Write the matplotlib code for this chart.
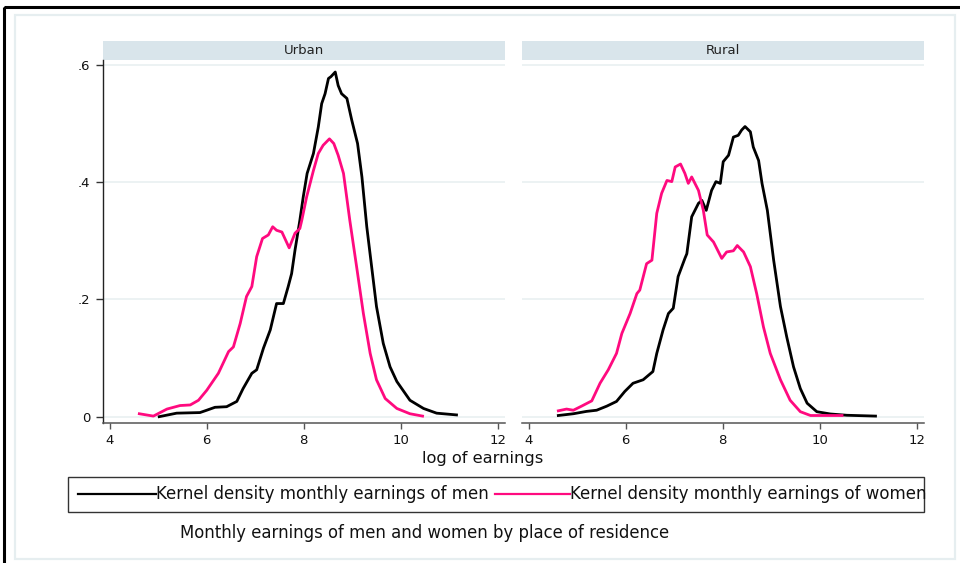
import matplotlib
matplotlib.use('Agg')
import matplotlib.pyplot as plt
from matplotlib.patches import Rectangle

plt.rcParams['font.family'] = ['DejaVu Sans']

# ---------------Data---------------
urban_men_x = [5.02, 5.38, 5.86, 6.00, 6.17, 6.41, 6.62, 6.75, 6.93, 7.03, 7.17, 7.31,
               7.44, 7.58, 7.68, 7.75, 7.82, 7.92, 7.99, 8.07, 8.20, 8.30, 8.37, 8.44,
               8.51, 8.56, 8.65, 8.71, 8.78, 8.89, 8.99, 9.11, 9.20, 9.30, 9.40, 9.50,
               9.64, 9.78, 9.92, 10.19, 10.47, 10.74, 11.15]
urban_men_y = [0.000, 0.006, 0.007, 0.011, 0.016, 0.017, 0.026, 0.048, 0.074, 0.080, 0.117, 0.148,
               0.193, 0.193, 0.222, 0.244, 0.284, 0.335, 0.375, 0.415, 0.449, 0.494, 0.534, 0.551,
               0.577, 0.580, 0.588, 0.565, 0.551, 0.543, 0.506, 0.466, 0.409, 0.324, 0.256, 0.188,
               0.125, 0.085, 0.060, 0.028, 0.014, 0.006, 0.003]

urban_women_x = [4.61, 4.90, 5.18, 5.45, 5.66, 5.83, 6.00, 6.24, 6.45, 6.55, 6.69, 6.82,
                 6.93, 7.03, 7.15, 7.27, 7.36, 7.44, 7.55, 7.70, 7.82, 7.92, 7.96, 8.06,
                 8.20, 8.30, 8.40, 8.53, 8.62, 8.71, 8.82, 8.95, 9.09, 9.23, 9.37, 9.50,
                 9.68, 9.92, 10.19, 10.45]
urban_women_y = [0.005, 0.001, 0.013, 0.019, 0.020, 0.028, 0.045, 0.074, 0.111, 0.119, 0.159, 0.205,
                 0.222, 0.273, 0.304, 0.310, 0.324, 0.318, 0.315, 0.288, 0.313, 0.321, 0.335, 0.375,
                 0.420, 0.449, 0.463, 0.474, 0.466, 0.446, 0.415, 0.335, 0.256, 0.176, 0.108, 0.063,
                 0.031, 0.014, 0.005, 0.001]

rural_men_x = [4.61, 4.92, 5.19, 5.40, 5.61, 5.81, 5.98, 6.15, 6.36, 6.56, 6.64, 6.77,
               6.88, 6.98, 7.08, 7.22, 7.26, 7.36, 7.50, 7.57, 7.66, 7.77, 7.86, 7.95,
               8.01, 8.12, 8.22, 8.32, 8.39, 8.46, 8.57, 8.63, 8.74, 8.81, 8.92, 9.05,
               9.19, 9.32, 9.46, 9.60, 9.74, 9.94, 10.22, 10.56, 11.15]
rural_men_y = [0.002, 0.005, 0.009, 0.011, 0.018, 0.026, 0.043, 0.057, 0.063, 0.077, 0.108, 0.148,
               0.176, 0.185, 0.239, 0.270, 0.278, 0.341, 0.364, 0.369, 0.352, 0.386, 0.401, 0.398,
               0.435, 0.446, 0.477, 0.480, 0.489, 0.495, 0.486, 0.460, 0.437, 0.398, 0.352, 0.267,
               0.188, 0.136, 0.085, 0.048, 0.023, 0.0085, 0.0046, 0.0024, 0.001]

rural_women_x = [4.61, 4.78, 4.92, 5.09, 5.30, 5.47, 5.64, 5.81, 5.92, 6.09, 6.23, 6.29,
                 6.43, 6.54, 6.64, 6.74, 6.85, 6.95, 7.02, 7.13, 7.22, 7.29, 7.36, 7.50,
                 7.60, 7.68, 7.81, 7.98, 8.08, 8.22, 8.30, 8.43, 8.57, 8.70, 8.84, 8.98,
                 9.19, 9.39, 9.60, 9.81, 10.46]
rural_women_y = [0.010, 0.013, 0.011, 0.018, 0.027, 0.057, 0.080, 0.108, 0.142, 0.176, 0.210, 0.216,
                 0.261, 0.267, 0.347, 0.381, 0.403, 0.401, 0.426, 0.431, 0.415, 0.398, 0.409, 0.386,
                 0.352, 0.310, 0.298, 0.270, 0.281, 0.283, 0.292, 0.281, 0.256, 0.210, 0.153, 0.108,
                 0.063, 0.028, 0.0085, 0.002, 0.002]

panels = ['Urban', 'Rural']
x_ticks = [4, 6, 8, 10, 12]
y_ticks = [0, 0.2, 0.4, 0.6]
y_tick_labels = ['0', '.2', '.4', '.6']
legend_labels = ['Kernel density monthly earnings of men',
                 'Kernel density monthly earnings of women']
x_label = 'log of earnings'
note = 'Monthly earnings of men and women by place of residence'
# ------------------------------------------------------------

MEN_C = '#000000'
WOMEN_C = '#ff0a7f'
STRIP_C = '#d9e5eb'
GRID_C = '#e9f0f1'

W, H = 960, 563
fig = plt.figure(figsize=(W / 100, H / 100), dpi=100)


def px_axes(x0, y0, x1, y1, **kw):
    return fig.add_axes([x0 / W, 1 - y1 / H, (x1 - x0) / W, (y1 - y0) / H], **kw)


# background layer in pixel coordinates
bg = px_axes(0, 0, W, H)
bg.set_xlim(0, W)
bg.set_ylim(H, 0)
bg.axis('off')
bg.add_patch(Rectangle((4, 7), 970, 570, fill=False, ec='black', lw=2.2))
bg.add_patch(Rectangle((15, 15), 940, 544, fill=False, ec='#e6eef0', lw=1.6))

panel_px = [(102.7, 505), (521.7, 924)]
top, bottom = 60, 423.3
series = [(urban_men_x, urban_men_y, urban_women_x, urban_women_y),
          (rural_men_x, rural_men_y, rural_women_x, rural_women_y)]

for i, (name, (x0, x1), (mx, my, wx, wy)) in enumerate(zip(panels, panel_px, series)):
    bg.add_patch(Rectangle((x0, 41), x1 - x0, 19, fc=STRIP_C, ec='none'))
    bg.text((x0 + x1) / 2, 50.5, name, ha='center', va='center', fontsize=9.5, color='#222222')

    ax = px_axes(x0, top, x1, bottom)
    ax.set_facecolor('none')
    ax.plot(mx, my, color=MEN_C, lw=2.0, zorder=3)
    ax.plot(wx, wy, color=WOMEN_C, lw=2.0, zorder=3)
    ax.set_xlim(3.855, 12.15)
    ax.set_ylim(-0.0113, 0.6085)
    ax.set_xticks(x_ticks)
    ax.set_yticks(y_ticks)
    ax.grid(axis='y', color=GRID_C, lw=1.2)
    ax.set_axisbelow(True)
    for s in ['top', 'right']:
        ax.spines[s].set_visible(False)
    ax.spines['bottom'].set_color('#555555')
    ax.spines['bottom'].set_linewidth(1.1)
    ax.tick_params(axis='x', direction='out', length=4, width=1, color='#555555',
                   labelsize=9.5, pad=4, labelcolor='#111111')
    if i == 0:
        ax.set_yticklabels(y_tick_labels)
        ax.spines['left'].set_color('#222222')
        ax.spines['left'].set_linewidth(1.0)
        ax.tick_params(axis='y', direction='out', length=5, width=1, color='#333333',
                       labelsize=9.5, pad=4, labelcolor='#111111')
    else:
        ax.spines['left'].set_visible(False)
        ax.tick_params(axis='y', length=0, labelleft=False)

bg.text(483, 459, x_label, ha='center', va='center', fontsize=11.7, color='#111111')

# legend box
bg.add_patch(Rectangle((68, 477), 856, 35, fc='white', ec='#333333', lw=1.0))
bg.plot([78, 156], [494, 494], color=MEN_C, lw=1.6)
bg.text(156, 494, legend_labels[0], ha='left', va='center', fontsize=12, color='#111111')
bg.plot([495, 570], [494, 494], color=WOMEN_C, lw=1.6)
bg.text(570, 494, legend_labels[1], ha='left', va='center', fontsize=12, color='#111111')

bg.text(180, 533, note, ha='left', va='center', fontsize=11.9, color='#111111')

fig.savefig('out.png', dpi=100)
